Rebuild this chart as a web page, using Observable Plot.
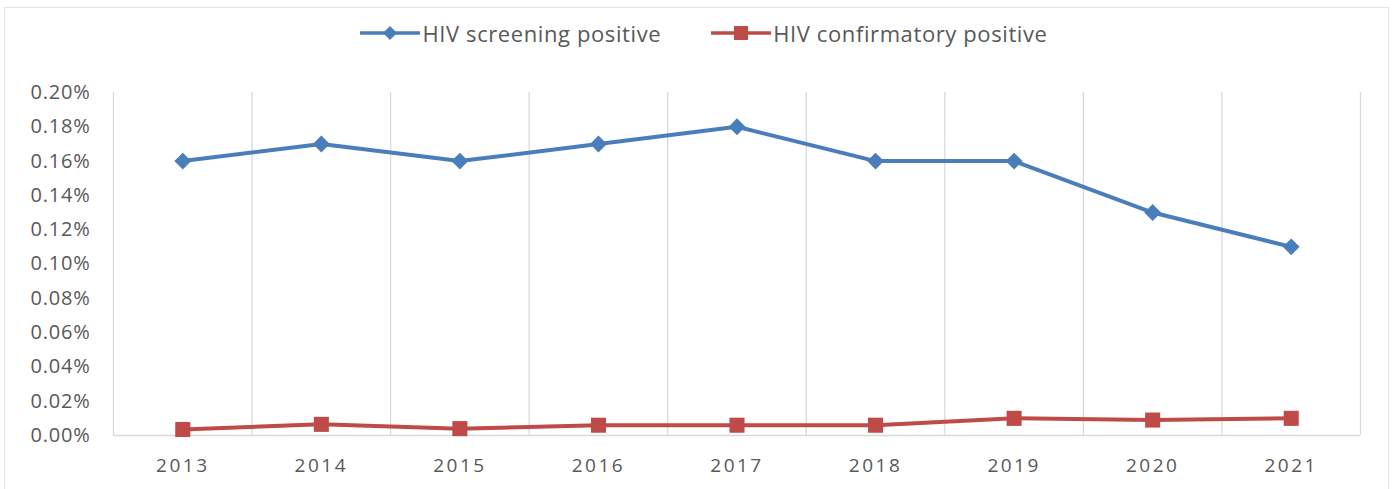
<!DOCTYPE html>
<html>
<head>
<meta charset="utf-8">
<script src="https://cdn.jsdelivr.net/npm/d3@7"></script>
<script src="https://cdn.jsdelivr.net/npm/@observablehq/plot@0.6"></script>
<style>
  html, body { margin: 0; padding: 0; background: #fff; }
  #wrap { position: relative; width: 1396px; height: 489px; overflow: hidden; font-family: "Open Sans", sans-serif; }
  #frame { position: absolute; left: 4px; top: 7px; width: 1385px; height: 500px; border: 1px solid #e4e4e4; box-sizing: border-box; }
  #legend { position: absolute; top: 18px; left: 0; width: 1396px; display: flex; justify-content: center; gap: 50px; font-size: 22px; letter-spacing: 0.6px; color: #595959; padding-left: 12px; box-sizing: border-box; }
  .item { display: flex; align-items: center; gap: 2px; }
  #chart { position: absolute; left: 0; top: 0; }
  [aria-label="x-axis tick label"] text { letter-spacing: 2.5px; }
  [aria-label="y-axis tick label"] text { letter-spacing: 0.8px; }
</style>
</head>
<body>
<div id="wrap">
  <div id="frame"></div>
  <div id="chart"></div>
  <div id="legend"></div>
</div>
<script>
const years = [2013, 2014, 2015, 2016, 2017, 2018, 2019, 2020, 2021];
const screening = [0.16, 0.17, 0.16, 0.17, 0.18, 0.16, 0.16, 0.13, 0.11];
const confirmatory = [0.0035, 0.0065, 0.004, 0.006, 0.006, 0.006, 0.010, 0.009, 0.010];
const seriesNames = ["HIV screening positive", "HIV confirmatory positive"];
const seriesColors = ["#4a7ebb", "#be4b48"];
const yTicks = [0, 0.02, 0.04, 0.06, 0.08, 0.10, 0.12, 0.14, 0.16, 0.18, 0.20];

const rows = [];
years.forEach((yr, i) => {
  rows.push({year: yr, value: screening[i], series: seriesNames[0]});
  rows.push({year: yr, value: confirmatory[i], series: seriesNames[1]});
});
const bounds = years.map(y => y - 0.5).concat([years[years.length - 1] + 0.5]);

const plot = Plot.plot({
  width: 1396,
  height: 489,
  marginLeft: 113,
  marginRight: 36,
  marginTop: 92,
  marginBottom: 54,
  style: {fontFamily: "'Open Sans', sans-serif", fontSize: "16px", color: "#595959", background: "transparent"},
  x: {type: "linear", domain: [bounds[0], bounds[bounds.length - 1]], label: null},
  y: {domain: [0, 0.2], label: null},
  marks: [
    Plot.ruleX(bounds, {stroke: "#d9d9d9", strokeWidth: 1.3, y1: 0, y2: 0.2}),
    Plot.ruleY([0], {stroke: "#d9d9d9", strokeWidth: 1.3}),
    Plot.axisX({ticks: years, tickFormat: d => String(d), tickSize: 0, tickPadding: 23, fontSize: 19, fill: "#595959"}),
    Plot.axisY({ticks: yTicks, tickFormat: d => d.toFixed(2) + "%", tickSize: 0, tickPadding: 23, fontSize: 20, fill: "#595959"}),
    Plot.line(rows.filter(d => d.series === seriesNames[1]), {x: "year", y: "value", stroke: seriesColors[1], strokeWidth: 4}),
    Plot.line(rows.filter(d => d.series === seriesNames[0]), {x: "year", y: "value", stroke: seriesColors[0], strokeWidth: 4}),
    Plot.dot(rows.filter(d => d.series === seriesNames[1]), {x: "year", y: "value", symbol: "square", r: 8.5, fill: seriesColors[1], stroke: "none"}),
    Plot.dot(rows.filter(d => d.series === seriesNames[0]), {x: "year", y: "value", symbol: "diamond2", r: 7.6, fill: seriesColors[0], stroke: "none"})
  ]
});
document.getElementById("chart").appendChild(plot);

const legend = document.getElementById("legend");
const icons = [
  '<svg width="60" height="20"><line x1="0" y1="10" x2="60" y2="10" stroke="#4a7ebb" stroke-width="3.5"/><path d="M30,3 L37,10 L30,17 L23,10 Z" fill="#4a7ebb"/></svg>',
  '<svg width="60" height="20"><line x1="0" y1="10" x2="60" y2="10" stroke="#be4b48" stroke-width="3.5"/><rect x="23" y="3" width="14" height="14" fill="#be4b48"/></svg>'
];
seriesNames.forEach((name, i) => {
  const el = document.createElement("div");
  el.className = "item";
  el.innerHTML = icons[i] + '<span>' + name + '</span>';
  legend.appendChild(el);
});
</script>
</body>
</html>
